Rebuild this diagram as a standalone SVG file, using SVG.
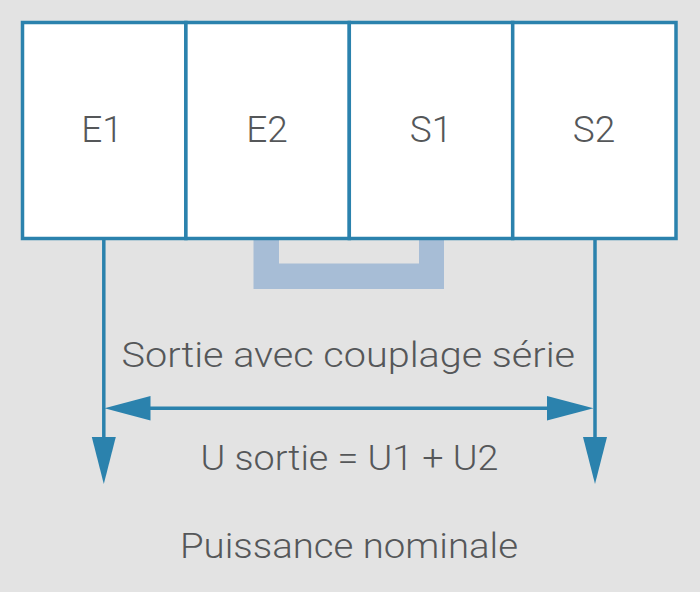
<svg xmlns="http://www.w3.org/2000/svg" width="700" height="592" viewBox="0 0 700 592">
<defs>
<style>
.bg{fill:#e3e3e3}
.box{fill:#ffffff;stroke:#2b82ad;stroke-width:3.5}
.lbl{font-family:Roboto,"DejaVu Sans",sans-serif;font-weight:300;font-size:37px;fill:#555759;text-anchor:middle}
.txt{font-family:Roboto,"DejaVu Sans",sans-serif;font-weight:300;font-size:35px;fill:#555759}
.wire{stroke:#2b82ad;stroke-width:3.5;fill:none}
.head{fill:#2b82ad}
</style>
</defs>
<rect class="bg" x="0" y="0" width="700" height="592"/>
<path id="bracket" d="M253.5,240 H444 V289 H253.5 Z M279,240 V263.5 H419 V240 Z" fill="#a7bdd6" fill-rule="evenodd"/>
<g id="E1"><rect class="box" x="22.5" y="22.5" width="163.4" height="216"/><text class="lbl" x="102" y="142">E1</text></g>
<g id="E2"><rect class="box" x="185.9" y="22.5" width="163.4" height="216"/><text class="lbl" x="267" y="142">E2</text></g>
<g id="S1"><rect class="box" x="349.3" y="22.5" width="163.4" height="216"/><text class="lbl" x="431" y="142">S1</text></g>
<g id="S2"><rect class="box" x="512.7" y="22.5" width="163.3" height="216"/><text class="lbl" x="594" y="142">S2</text></g>
<g id="connectors">
<line class="wire" x1="103.8" y1="240" x2="103.8" y2="440"/>
<polygon class="head" points="91.8,437 115.8,437 103.8,484"/>
<line class="wire" x1="595" y1="240" x2="595" y2="440"/>
<polygon class="head" points="583,437 607,437 595,484"/>
<line class="wire" x1="145" y1="408.3" x2="552" y2="408.3"/>
<polygon class="head" points="104.5,408.3 150.5,396 150.5,420.6"/>
<polygon class="head" points="593.5,408.3 547,396 547,420.6"/>
</g>
<text class="txt" x="121.5" y="366.5" textLength="453.5" lengthAdjust="spacingAndGlyphs">Sortie avec couplage série</text>
<text class="txt" x="200.5" y="470" textLength="298" lengthAdjust="spacingAndGlyphs">U sortie = U1 + U2</text>
<text class="txt" x="180" y="558" textLength="338" lengthAdjust="spacingAndGlyphs">Puissance nominale</text>
</svg>
